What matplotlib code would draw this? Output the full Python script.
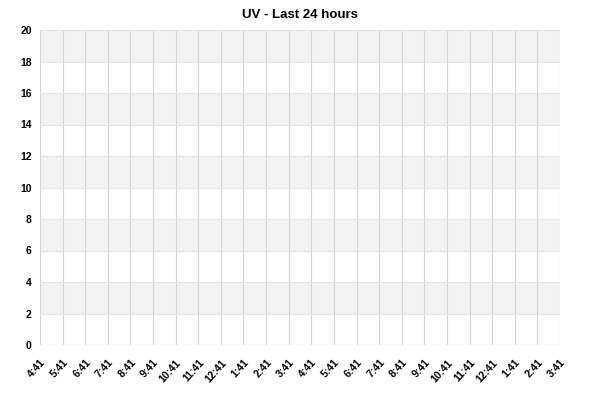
import matplotlib
matplotlib.use("Agg")
import matplotlib.pyplot as plt

hour_labels = ['4:41', '5:41', '6:41', '7:41', '8:41', '9:41', '10:41', '11:41',
               '12:41', '1:41', '2:41', '3:41', '4:41', '5:41', '6:41', '7:41',
               '8:41', '9:41', '10:41', '11:41', '12:41', '1:41', '2:41', '3:41']
y_ticks = [0, 2, 4, 6, 8, 10, 12, 14, 16, 18, 20]
uv_values = []  # no readings in the last 24 hours

plt.rcParams['font.family'] = ['Liberation Sans', 'DejaVu Sans']

fig = plt.figure(figsize=(6, 4), dpi=100)
ax = fig.add_axes([40 / 600, 55 / 400, 520 / 600, 315 / 400])

# alternating bands
for i in range(1, len(y_ticks), 2):
    ax.axhspan(y_ticks[i], y_ticks[i] + 2, color='#f3f3f3', zorder=0, lw=0)

x = list(range(len(hour_labels)))
if uv_values:
    ax.plot(x[:len(uv_values)], uv_values, color='#4572a7')

ax.set_xlim(0, len(hour_labels) - 1)
ax.set_ylim(0, 20)
ax.set_xticks(x)
ax.set_xticklabels(hour_labels, rotation=48, ha='right', rotation_mode='anchor',
                   fontsize=7.5, fontweight='bold')
ax.set_yticks(y_ticks)
ax.set_yticklabels([str(v) for v in y_ticks], fontsize=7.5, fontweight='bold')
ax.tick_params(length=0, pad=6)
ax.tick_params(axis='x', pad=9)

for xi in x:
    ax.axvline(xi, color='#d3d3d3', lw=0.8, zorder=1, snap=True)
for yv in y_ticks:
    ax.axhline(yv, color='#e4e4e4', lw=0.8, zorder=1, snap=True)
ax.axhline(0, color='#d3d3d3', lw=0.8, zorder=2, snap=True)

for s in ax.spines.values():
    s.set_visible(False)

ax.set_title('UV - Last 24 hours', fontsize=9.5, fontweight='bold', pad=9)

fig.savefig('out.png', dpi=100)
